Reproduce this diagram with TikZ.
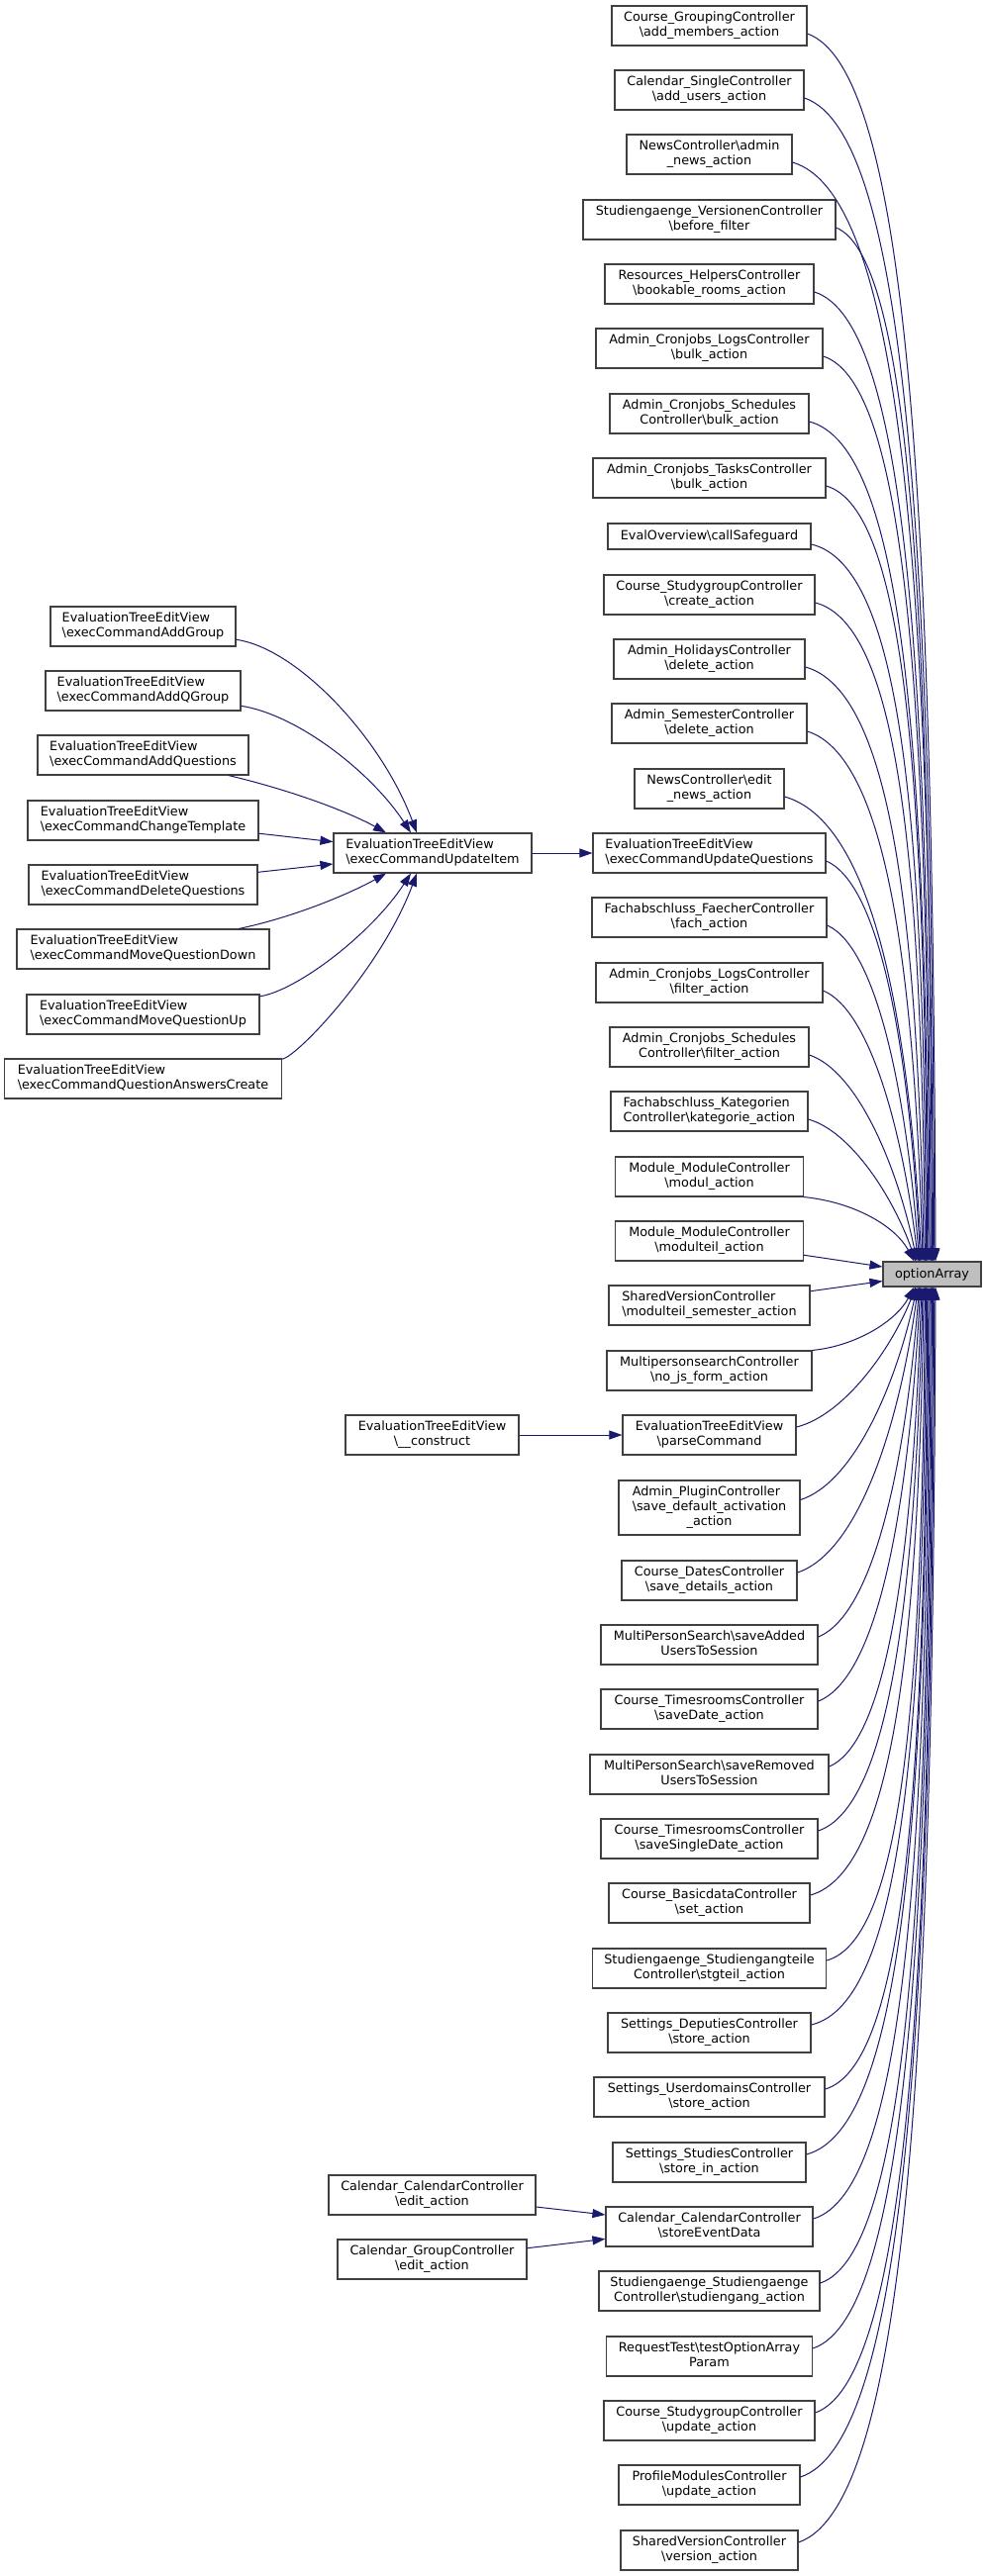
\documentclass[tikz,border=0pt]{standalone}
\usepackage{fontspec}
\setmainfont{DejaVu Sans}
\usetikzlibrary{arrows.meta,calc}
\definecolor{edgeblue}{HTML}{191970}
\definecolor{boxgray}{HTML}{404040}
\definecolor{rootfill}{HTML}{BFBFBF}
\newcommand\bsl{\textbackslash}
\newcommand\twoline[2]{\begin{tabular}{@{}l@{}}#1\\\multicolumn{1}{@{}c@{}}{#2}\end{tabular}}
\newcommand\threeline[3]{\begin{tabular}{@{}l@{}}#1\\#2\\\multicolumn{1}{@{}c@{}}{#3}\end{tabular}}
\tikzset{
  fn/.style={draw=boxgray, fill=white, line width=1.1pt, inner sep=0pt, minimum height=40pt, font=\fontsize{12.8}{15}\selectfont},
  callarrow/.style={draw=edgeblue, line width=1pt, -{Triangle[length=13pt,width=9pt]}}
}
\newcommand\upedge[2]{%
  \draw[callarrow] let \p1=([yshift=-8pt]#1.east), \p2=([xshift=#2pt]opt.north),
    \n1={\x2-\x1}, \n2={\y1-\y2}, \n3={min(1,\n2/700)} in
    (\p1) .. controls ({\x1+(0.3+0.5*\n3)*\n1},{\y1-(0.1-0.07*\n3)*\n2})
    and ({\x2-(0.25-0.23*\n3)*\n1},{\y2+(0.4+0.2*\n3)*\n2}) .. (\p2);}
\newcommand\downedge[2]{%
  \draw[callarrow] let \p1=([yshift=8pt]#1.east), \p2=([xshift=#2pt]opt.south),
    \n1={\x2-\x1}, \n2={\y2-\y1}, \n3={min(1,\n2/700)} in
    (\p1) .. controls ({\x1+(0.3+0.5*\n3)*\n1},{\y1+(0.1-0.07*\n3)*\n2})
    and ({\x2-(0.25-0.23*\n3)*\n1},{\y2-(0.4+0.2*\n3)*\n2}) .. (\p2);}
\begin{document}
\begin{tikzpicture}[x=1pt,y=-1pt]
\useasboundingbox (0,0) rectangle (996,2603);
\fill[white] (0,0) rectangle (996,2603);

% target
\node[fn, fill=rootfill, draw=boxgray, minimum width=99pt, minimum height=25pt] (opt) at (941.5,1287.5) {optionArray};

% right column
\node[fn, minimum width=197pt] (b1) at (716.5,26) {\twoline{Course\_GroupingController}{\bsl add\_members\_action}};
\node[fn, minimum width=191pt] (b2) at (716.5,91) {\twoline{Calendar\_SingleController}{\bsl add\_users\_action}};
\node[fn, minimum width=167pt] (b3) at (716.5,156) {\twoline{NewsController\bsl admin}{\_news\_action}};
\node[fn, minimum width=255pt] (b4) at (716.5,222) {\twoline{Studiengaenge\_VersionenController}{\bsl before\_filter}};
\node[fn, minimum width=211pt] (b5) at (716.5,287) {\twoline{Resources\_HelpersController}{\bsl bookable\_rooms\_action}};
\node[fn, minimum width=229pt] (b6) at (716.5,352) {\twoline{Admin\_Cronjobs\_LogsController}{\bsl bulk\_action}};
\node[fn, minimum width=201pt] (b7) at (716.5,418) {\twoline{Admin\_Cronjobs\_Schedules}{Controller\bsl bulk\_action}};
\node[fn, minimum width=235pt] (b8) at (716.5,483) {\twoline{Admin\_Cronjobs\_TasksController}{\bsl bulk\_action}};
\node[fn, minimum width=205pt, minimum height=26pt] (b9) at (716.5,542) {EvalOverview\bsl callSafeguard};
\node[fn, minimum width=213pt] (b10) at (716.5,601) {\twoline{Course\_StudygroupController}{\bsl create\_action}};
\node[fn, minimum width=193pt] (b11) at (716.5,666) {\twoline{Admin\_HolidaysController}{\bsl delete\_action}};
\node[fn, minimum width=197pt] (b12) at (716.5,731) {\twoline{Admin\_SemesterController}{\bsl delete\_action}};
\node[fn, minimum width=151pt] (b13) at (716.5,797) {\twoline{NewsController\bsl edit}{\_news\_action}};
\node[fn, minimum width=235pt] (b14) at (716.5,862) {\twoline{EvaluationTreeEditView}{\bsl execCommandUpdateQuestions}};
\node[fn, minimum width=237pt] (b15) at (716.5,927) {\twoline{Fachabschluss\_FaecherController}{\bsl fach\_action}};
\node[fn, minimum width=229pt] (b16) at (716.5,993) {\twoline{Admin\_Cronjobs\_LogsController}{\bsl filter\_action}};
\node[fn, minimum width=201pt] (b17) at (716.5,1058) {\twoline{Admin\_Cronjobs\_Schedules}{Controller\bsl filter\_action}};
\node[fn, minimum width=199pt] (b18) at (716.5,1123) {\twoline{Fachabschluss\_Kategorien}{Controller\bsl kategorie\_action}};
\node[fn, minimum width=190pt] (b19) at (716.5,1189) {\twoline{Module\_ModuleController}{\bsl modul\_action}};
\node[fn, minimum width=190pt] (b20) at (716.5,1254) {\twoline{Module\_ModuleController}{\bsl modulteil\_action}};
\node[fn, minimum width=203pt] (b21) at (716.5,1319) {\twoline{SharedVersionController}{\bsl modulteil\_semester\_action}};
\node[fn, minimum width=207pt] (b22) at (716.5,1385) {\twoline{MultipersonsearchController}{\bsl no\_js\_form\_action}};
\node[fn, minimum width=175pt] (b23) at (716.5,1450) {\twoline{EvaluationTreeEditView}{\bsl parseCommand}};
\node[fn, minimum width=183pt, minimum height=55pt] (b24) at (716.5,1523.5) {\threeline{Admin\_PluginController}{\bsl save\_default\_activation}{\_action}};
\node[fn, minimum width=177pt] (b25) at (716.5,1597) {\twoline{Course\_DatesController}{\bsl save\_details\_action}};
\node[fn, minimum width=219pt] (b26) at (716.5,1662) {\twoline{MultiPersonSearch\bsl saveAdded}{UsersToSession}};
\node[fn, minimum width=219pt] (b27) at (716.5,1727) {\twoline{Course\_TimesroomsController}{\bsl saveDate\_action}};
\node[fn, minimum width=241pt] (b28) at (716.5,1793) {\twoline{MultiPersonSearch\bsl saveRemoved}{UsersToSession}};
\node[fn, minimum width=219pt] (b29) at (716.5,1858) {\twoline{Course\_TimesroomsController}{\bsl saveSingleDate\_action}};
\node[fn, minimum width=203pt] (b30) at (716.5,1923) {\twoline{Course\_BasicdataController}{\bsl set\_action}};
\node[fn, minimum width=236pt] (b31) at (716.5,1989) {\twoline{Studiengaenge\_Studiengangteile}{Controller\bsl stgteil\_action}};
\node[fn, minimum width=205pt] (b32) at (716.5,2054) {\twoline{Settings\_DeputiesController}{\bsl store\_action}};
\node[fn, minimum width=233pt] (b33) at (716.5,2119) {\twoline{Settings\_UserdomainsController}{\bsl store\_action}};
\node[fn, minimum width=195pt] (b34) at (716.5,2185) {\twoline{Settings\_StudiesController}{\bsl store\_in\_action}};
\node[fn, minimum width=209pt] (b35) at (716.5,2250) {\twoline{Calendar\_CalendarController}{\bsl storeEventData}};
\node[fn, minimum width=223pt] (b36) at (716.5,2315) {\twoline{Studiengaenge\_Studiengaenge}{Controller\bsl studiengang\_action}};
\node[fn, minimum width=208pt] (b37) at (716.5,2381) {\twoline{RequestTest\bsl testOptionArray}{Param}};
\node[fn, minimum width=213pt] (b38) at (716.5,2446) {\twoline{Course\_StudygroupController}{\bsl update\_action}};
\node[fn, minimum width=183pt] (b39) at (716.5,2511) {\twoline{ProfileModulesController}{\bsl update\_action}};
\node[fn, minimum width=179pt] (b40) at (716.5,2577) {\twoline{SharedVersionController}{\bsl version\_action}};

% left column
\node[fn, minimum width=187pt] (a1) at (144.5,633) {\twoline{EvaluationTreeEditView}{\bsl execCommandAddGroup}};
\node[fn, minimum width=197pt] (a2) at (144.5,698) {\twoline{EvaluationTreeEditView}{\bsl execCommandAddQGroup}};
\node[fn, minimum width=213pt] (a3) at (144.5,763) {\twoline{EvaluationTreeEditView}{\bsl execCommandAddQuestions}};
\node[fn, minimum width=233pt] (a4) at (144.5,829) {\twoline{EvaluationTreeEditView}{\bsl execCommandChangeTemplate}};
\node[fn, minimum width=231pt] (a5) at (144.5,894) {\twoline{EvaluationTreeEditView}{\bsl execCommandDeleteQuestions}};
\node[fn, minimum width=255pt] (a6) at (144.5,959) {\twoline{EvaluationTreeEditView}{\bsl execCommandMoveQuestionDown}};
\node[fn, minimum width=235pt] (a7) at (144.5,1025) {\twoline{EvaluationTreeEditView}{\bsl execCommandMoveQuestionUp}};
\node[fn, minimum width=280pt] (a8) at (144.5,1090) {\twoline{EvaluationTreeEditView}{\bsl execCommandQuestionAnswersCreate}};
\node[fn, minimum width=200pt] (ui) at (437,862) {\twoline{EvaluationTreeEditView}{\bsl execCommandUpdateItem}};
\node[fn, minimum width=175pt] (cons) at (436.5,1450) {\twoline{EvaluationTreeEditView}{\bsl \_\_construct}};
\node[fn, minimum width=209pt] (ce) at (436.5,2218) {\twoline{Calendar\_CalendarController}{\bsl edit\_action}};
\node[fn, minimum width=191pt] (ge) at (436.5,2283) {\twoline{Calendar\_GroupController}{\bsl edit\_action}};

% left edges
\draw[callarrow] (a1) .. controls (300,655) and (385,745) .. ([xshift=-16pt]ui.north);
\draw[callarrow] (a2) .. controls (300,722) and (375,780) .. ([xshift=-22pt]ui.north);
\draw[callarrow] (a3) .. controls (300,800) and (355,822) .. ([xshift=-47pt]ui.north);
\draw[callarrow] (a4) -- (ui);
\draw[callarrow] (a5) -- (ui);
\draw[callarrow] (a6) .. controls (300,926) and (355,902) .. ([xshift=-47pt]ui.south);
\draw[callarrow] (a7) .. controls (300,1001) and (375,944) .. ([xshift=-22pt]ui.south);
\draw[callarrow] (a8) .. controls (300,1068) and (385,979) .. ([xshift=-16pt]ui.south);
\draw[callarrow] (ui) -- (b14);
\draw[callarrow] (cons) -- (b23);
\draw[callarrow] (ce) -- (b35);
\draw[callarrow] (ge) -- (b35);

% edges to optionArray
\upedge{b1}{3.5}
\upedge{b2}{2.3}
\upedge{b3}{1.1}
\upedge{b4}{0}
\upedge{b5}{-1.2}
\upedge{b6}{-2.4}
\upedge{b7}{-3.6}
\upedge{b8}{-4.7}
\upedge{b9}{-5.9}
\upedge{b10}{-7.1}
\upedge{b11}{-8.3}
\upedge{b12}{-9.4}
\upedge{b13}{-10.6}
\upedge{b14}{-11.8}
\upedge{b15}{-13.0}
\upedge{b16}{-14.1}
\upedge{b17}{-15.3}
\upedge{b18}{-16.5}
\draw[callarrow] (b19.south east) .. controls (865,1215) and (905,1240) .. ([xshift=-18pt]opt.north);
\draw[callarrow] (b20) -- (opt);
\draw[callarrow] (b21) -- (opt);
\draw[callarrow] (b22.north east) .. controls (865,1360) and (905,1335) .. ([xshift=-18pt]opt.south);
\downedge{b23}{-16.5}
\downedge{b24}{-15.3}
\downedge{b25}{-14.1}
\downedge{b26}{-13.0}
\downedge{b27}{-11.8}
\downedge{b28}{-10.6}
\downedge{b29}{-9.4}
\downedge{b30}{-8.3}
\downedge{b31}{-7.1}
\downedge{b32}{-5.9}
\downedge{b33}{-4.7}
\downedge{b34}{-3.6}
\downedge{b35}{-2.4}
\downedge{b36}{-1.2}
\downedge{b37}{0}
\downedge{b38}{1.1}
\downedge{b39}{2.3}
\downedge{b40}{3.5}
\end{tikzpicture}
\end{document}
